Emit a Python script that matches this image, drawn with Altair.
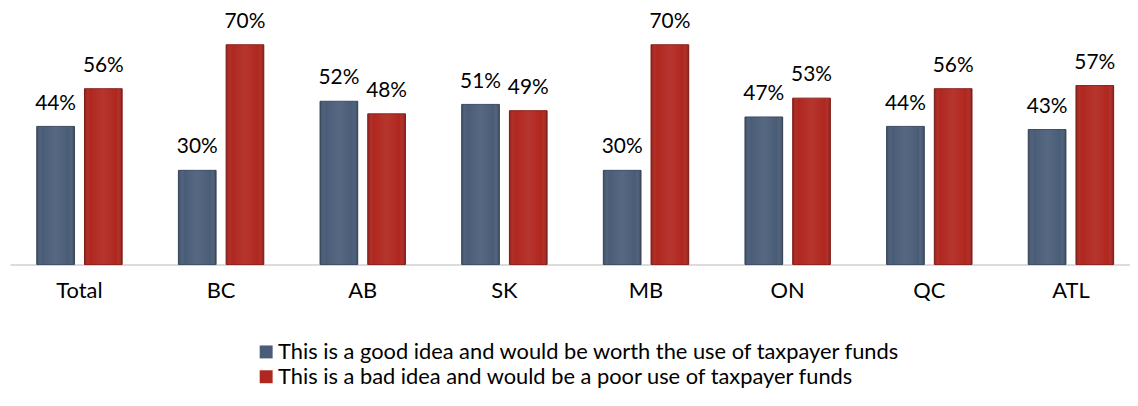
import altair as alt
import pandas as pd

regions = ["Total", "BC", "AB", "SK", "MB", "ON", "QC", "ATL"]
good = [44, 30, 52, 51, 30, 47, 44, 43]
bad = [56, 70, 48, 49, 70, 53, 56, 57]
series = [
    "This is a good idea and would be worth the use of taxpayer funds",
    "This is a bad idea and would be a poor use of taxpayer funds",
]
colors = ["#4a5d78", "#b0271f"]
edge_colors = ["#3a4a60", "#8a1d17"]

rows = []
for r, g, b in zip(regions, good, bad):
    rows.append({"region": r, "series": series[0], "value": g / 100})
    rows.append({"region": r, "series": series[1], "value": b / 100})
df = pd.DataFrame(rows)

FONT = "Lato"
FS = 21
FS_BIG = 22

x = alt.X("region:N", sort=regions, title=None,
          scale=alt.Scale(paddingInner=0.397, paddingOuter=0.189, range=[0, 1138.5]),
          axis=alt.Axis(labelAngle=0, ticks=False, domainColor="#d0d0d0", domainWidth=1.5,
                        labelFontSize=FS_BIG, labelColor="#000000", labelFont=FONT, labelPadding=16))
xo = alt.XOffset("series:N", sort=series, scale=alt.Scale(paddingInner=0.21, paddingOuter=0))
y = alt.Y("value:Q", scale=alt.Scale(domain=[0, 0.8]), axis=None)

base = alt.Chart(df).encode(x=x, xOffset=xo, y=y)

bars = base.mark_bar(strokeWidth=1).encode(
    color=alt.Color("series:N", sort=series, scale=alt.Scale(domain=series, range=colors),
                    legend=alt.Legend(title=None, orient="none", legendX=247, legendY=330,
                                      direction="vertical", symbolType="square", symbolSize=170,
                                      labelFontSize=FS_BIG, labelFont=FONT, labelColor="#000000",
                                      rowPadding=3, symbolStrokeWidth=0, labelLimit=900,
                                      padding=0, symbolOffset=0, labelOffset=1)),
    stroke=alt.Color("series:N", sort=series,
                     scale=alt.Scale(domain=series, range=edge_colors), legend=None),
)

shade = base.mark_bar(
    color=alt.LinearGradient(
        gradient="linear", x1=0, x2=1, y1=0, y2=0,
        stops=[
            alt.GradientStop(offset=0, color="rgba(0,0,0,0.18)"),
            alt.GradientStop(offset=0.15, color="rgba(255,255,255,0.0)"),
            alt.GradientStop(offset=0.5, color="rgba(255,255,255,0.07)"),
            alt.GradientStop(offset=0.85, color="rgba(255,255,255,0.0)"),
            alt.GradientStop(offset=1, color="rgba(0,0,0,0.22)"),
        ],
    )
)

labels = base.mark_text(baseline="alphabetic", dy=-17, fontSize=FS, font=FONT, color="#000000").encode(
    text=alt.Text("value:Q", format=".0%")
)

chart = (bars + shade + labels).properties(
    width=1128, height=253,
    padding={"left": 2, "top": 4, "right": 0, "bottom": 133},
    autosize=alt.AutoSizeParams(type="none"),
).configure_view(stroke=None)

chart.save("out.html", embed_options={"renderer": "svg", "actions": False})
